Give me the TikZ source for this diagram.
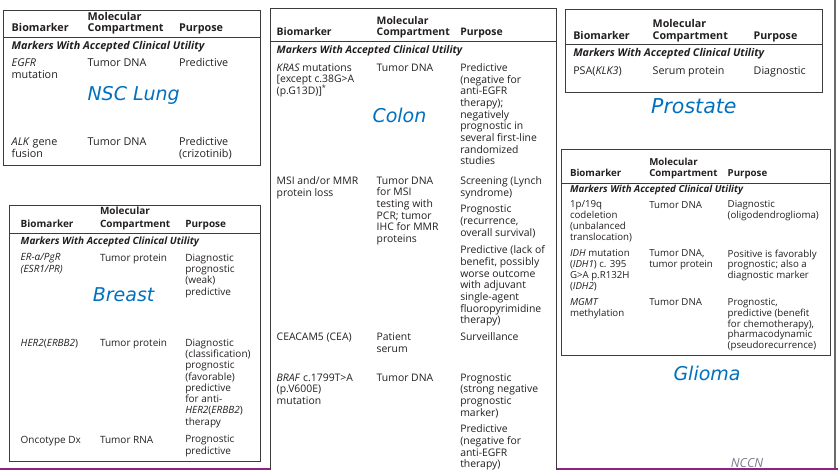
\documentclass[tikz,border=0pt]{standalone}
\usepackage{fontspec}
\setmainfont{Open Sans}
\newfontfamily\lblfont{DejaVu Sans}
\definecolor{textc}{HTML}{231F20}
\definecolor{bordc}{HTML}{3C3C3C}
\definecolor{framec}{HTML}{6A6A6A}
\definecolor{lblblue}{HTML}{0070C0}
\definecolor{purp}{HTML}{8E2383}
\definecolor{nccnc}{HTML}{7A7A8C}
\tikzset{
  txt/.style={text=textc, inner sep=0pt, outer sep=0pt},
  hd/.style={txt, anchor=base west, font=\tabsz\bfseries},
  mk/.style={txt, anchor=base west, font=\tabsz\bfseries\itshape},
  cell/.style={txt, anchor=north west, align=left, font=\tabsz, execute at begin node=\strut},
  lbl/.style={inner sep=0pt, anchor=base west, text=lblblue, font=\lblfont\itshape\fontsize{19}{22}\selectfont},
  tbox/.style={draw=bordc, line width=1pt},
  frame/.style={draw=framec, line width=1.2pt}
}
\begin{document}
\begin{tikzpicture}[x=1pt,y=-1pt]
\useasboundingbox (0,0) rectangle (838,470);
% NCCN and bottom bar
\node[inner sep=0pt, anchor=base west, text=nccnc, font=\itshape\fontsize{12.5}{15}\selectfont] (nccn) at (730.7,467.2) {NCCN};
\fill[purp] (0,467.5) rectangle (838,470);
\draw[frame] (835,0) -- (835,467.5);

% ===== NSC Lung =====
\begin{scope}
\def\tabsz{\fontsize{10.8}{12}\selectfont}\def\off{8.4}
\draw[tbox] (3.3,10.7) rectangle (260.7,165.7);
\draw[tbox] (3.3,37.7) -- (260.7,37.7);
\node[hd] (lmol) at (87.7,20.7) {Molecular};
\node[hd] (lbio) at (11.7,31.7) {Biomarker};
\node[hd] (lcomp) at (87.7,31.7) {Compartment};
\node[hd] (lpur) at (179,31.7) {Purpose};
\node[mk] (lmk) at (11.7,49.3) {Markers With Accepted Clinical Utility};
\node[cell] (l1a) at (11.7,{66.7-\off}) {\textit{EGFR}\\mutation};
\node[cell] (l1b) at (87.7,{66.7-\off}) {Tumor DNA};
\node[cell] (l1c) at (179,{66.7-\off}) {Predictive};
\node[cell] (l2a) at (11.7,{146-\off}) {\textit{ALK} gene\\fusion};
\node[cell] (l2b) at (87.7,{146-\off}) {Tumor DNA};
\node[cell] (l2c) at (179,{146-\off}) {Predictive\\(crizotinib)};
\node[lbl] (llbl) at (87.3,100.7) {NSC Lung};
\end{scope}

% ===== Breast =====
\begin{scope}
\def\tabsz{\fontsize{10}{11.3}\selectfont}\def\off{7.91}
\draw[tbox] (9.3,205.7) rectangle (260.7,461.7);
\draw[tbox] (9.3,234) -- (260.7,234);
\node[hd] (bmol) at (100,215) {Molecular};
\node[hd] (bbio) at (20.7,227.3) {Biomarker};
\node[hd] (bcomp) at (100,227.3) {Compartment};
\node[hd] (bpur) at (185.3,227.3) {Purpose};
\node[mk] (bmk) at (20.7,244.3) {Markers With Accepted Clinical Utility};
\node[cell] (b1a) at (20.7,{261.7-\off}) {\textit{ER-α/PgR}\\\textit{(ESR1/PR)}};
\node[cell] (b1b) at (100,{261.7-\off}) {Tumor protein};
\node[cell] (b1c) at (185.3,{261.7-\off}) {Diagnostic\\prognostic\\(weak)\\predictive};
\node[cell] (b2a) at (20.7,{346.7-\off}) {\textit{HER2}(\textit{ERBB2})};
\node[cell] (b2b) at (100,{346.7-\off}) {Tumor protein};
\node[cell] (b2c) at (185.3,{346.7-\off}) {Diagnostic\\(classification)\\prognostic\\(favorable)\\predictive\\for anti-\\\textit{HER2}(\textit{ERBB2})\\therapy};
\node[cell] (b3a) at (20.7,{443.3-\off}) {Oncotype Dx};
\node[cell] (b3b) at (100,{443.3-\off}) {Tumor RNA};
\node[cell] (b3c) at (185.3,{443.3-\off}) {Prognostic\\predictive};
\node[lbl] (blbl) at (92.7,301.7) {Breast};
\end{scope}

% ===== Colon =====
\begin{scope}
\def\tabsz{\fontsize{10.4}{11.67}\selectfont}\def\off{8.17}
\fill[white] (270.3,8.3) rectangle (556.7,471);
\draw[tbox] (270.3,472) -- (270.3,8.3) -- (556.7,8.3) -- (556.7,472);
\draw[tbox] (270.3,41.7) -- (556.7,41.7);
\node[hd] (cmol) at (376.7,24.7) {Molecular};
\node[hd] (cbio) at (276.7,35.7) {Biomarker};
\node[hd] (ccomp) at (376.7,35.7) {Compartment};
\node[hd] (cpur) at (460.3,35.7) {Purpose};
\node[mk] (cmk) at (276.7,53.5) {Markers With Accepted Clinical Utility};
\node[cell] (c1a) at (276.7,{71.7-\off}) {\textit{KRAS} mutations\\{[}except c.38G>A\\(p.G13D){]}\textsuperscript{*}};
\node[cell] (c1b) at (376.7,{71.7-\off}) {Tumor DNA};
\node[cell] (c1c) at (460.3,{71.7-\off}) {Predictive\\(negative for\\anti-EGFR\\therapy);\\negatively\\prognostic in\\several first-line\\randomized\\studies};
\node[cell] (c2a) at (276.7,{185-\off}) {MSI and/or MMR\\protein loss};
\node[cell] (c2b) at (376.7,{185-\off}) {Tumor DNA\\for MSI\\testing with\\PCR; tumor\\IHC for MMR\\proteins};
\node[cell] (c2c) at (460.3,{185-\off}) {Screening (Lynch\\syndrome)};
\node[cell] (c2d) at (460.3,{213.3-\off}) {Prognostic\\(recurrence,\\overall survival)};
\node[cell] (c2e) at (460.3,{254-\off}) {Predictive (lack of\\benefit, possibly\\worse outcome\\with adjuvant\\single-agent\\fluoropyrimidine\\therapy)};
\node[cell] (c3a) at (276.7,{341-\off}) {CEACAM5 (CEA)};
\node[cell] (c3b) at (376.7,{341-\off}) {Patient\\serum};
\node[cell] (c3c) at (460.3,{341-\off}) {Surveillance};
\node[cell] (c4a) at (276.7,{381.7-\off}) {\textit{BRAF} c.1799T>A\\(p.V600E)\\mutation};
\node[cell] (c4b) at (376.7,{381.7-\off}) {Tumor DNA};
\node[cell] (c4c) at (460.3,{381.7-\off}) {Prognostic\\(strong negative\\prognostic\\marker)};
\node[cell] (c4d) at (460.3,{433-\off}) {Predictive\\(negative for\\anti-EGFR\\therapy)};
\node[lbl] (clbl) at (372.3,122.7) {Colon};
\end{scope}
\fill[purp] (0,467.5) rectangle (270.3,470);
\fill[purp] (556.7,467.5) rectangle (838,470);

% ===== Prostate =====
\begin{scope}
\def\tabsz{\fontsize{10.7}{12}\selectfont}\def\off{8.4}
\draw[tbox] (565,9.3) rectangle (822.7,92.3);
\draw[tbox] (565,45) -- (822.7,45);
\node[hd] (pmol) at (652.7,27.3) {Molecular};
\node[hd] (pbio) at (573.3,39.3) {Biomarker};
\node[hd] (pcomp) at (652.7,39.3) {Compartment};
\node[hd] (ppur) at (753.7,39.3) {Purpose};
\node[mk] (pmk) at (573.3,56.7) {Markers With Accepted Clinical Utility};
\node[cell] (p1a) at (573.3,{75-\off}) {PSA(\textit{KLK3})};
\node[cell] (p1b) at (652.7,{75-\off}) {Serum protein};
\node[cell] (p1c) at (753.7,{75-\off}) {Diagnostic};
\node[lbl, font=\lblfont\itshape\fontsize{20.5}{24}\selectfont] (plbl) at (651,113.8) {Prostate};
\end{scope}

% ===== Glioma =====
\begin{scope}
\def\tabsz{\fontsize{9.7}{10.8}\selectfont}\def\off{7.56}
\draw[tbox] (561,149.3) rectangle (830.7,355);
\draw[tbox] (561,183.3) -- (830.7,183.3);
\node[hd] (gmol) at (649.3,166) {Molecular};
\node[hd] (gbio) at (570,176.5) {Biomarker};
\node[hd] (gcomp) at (649.3,176.5) {Compartment};
\node[hd] (gpur) at (727.7,176.5) {Purpose};
\node[mk] (gmk) at (570,192.7) {Markers With Accepted Clinical Utility};
\node[cell] (g1a) at (570,{208.3-\off}) {1p/19q\\codeletion\\(unbalanced\\translocation)};
\node[cell] (g1b) at (649.3,{208.3-\off}) {Tumor DNA};
\node[cell] (g1c) at (727.7,{208.3-\off}) {Diagnostic\\(oligodendroglioma)};
\node[cell] (g2a) at (570,{257.3-\off}) {\textit{IDH} mutation\\(\textit{IDH1}) c. 395\\G>A p.R132H\\(\textit{IDH2})};
\node[cell] (g2b) at (649.3,{257.3-\off}) {Tumor DNA,\\tumor protein};
\node[cell] (g2c) at (727.7,{257.3-\off}) {Positive is favorably\\prognostic; also a\\diagnostic marker};
\node[cell] (g3a) at (570,{306-\off}) {\textit{MGMT}\\methylation};
\node[cell] (g3b) at (649.3,{306-\off}) {Tumor DNA};
\node[cell] (g3c) at (727.7,{306-\off}) {Prognostic,\\predictive (benefit\\for chemotherapy),\\pharmacodynamic\\(pseudorecurrence)};
\node[lbl] (glbl) at (673.3,380) {Glioma};
\end{scope}
\end{tikzpicture}
\end{document}
